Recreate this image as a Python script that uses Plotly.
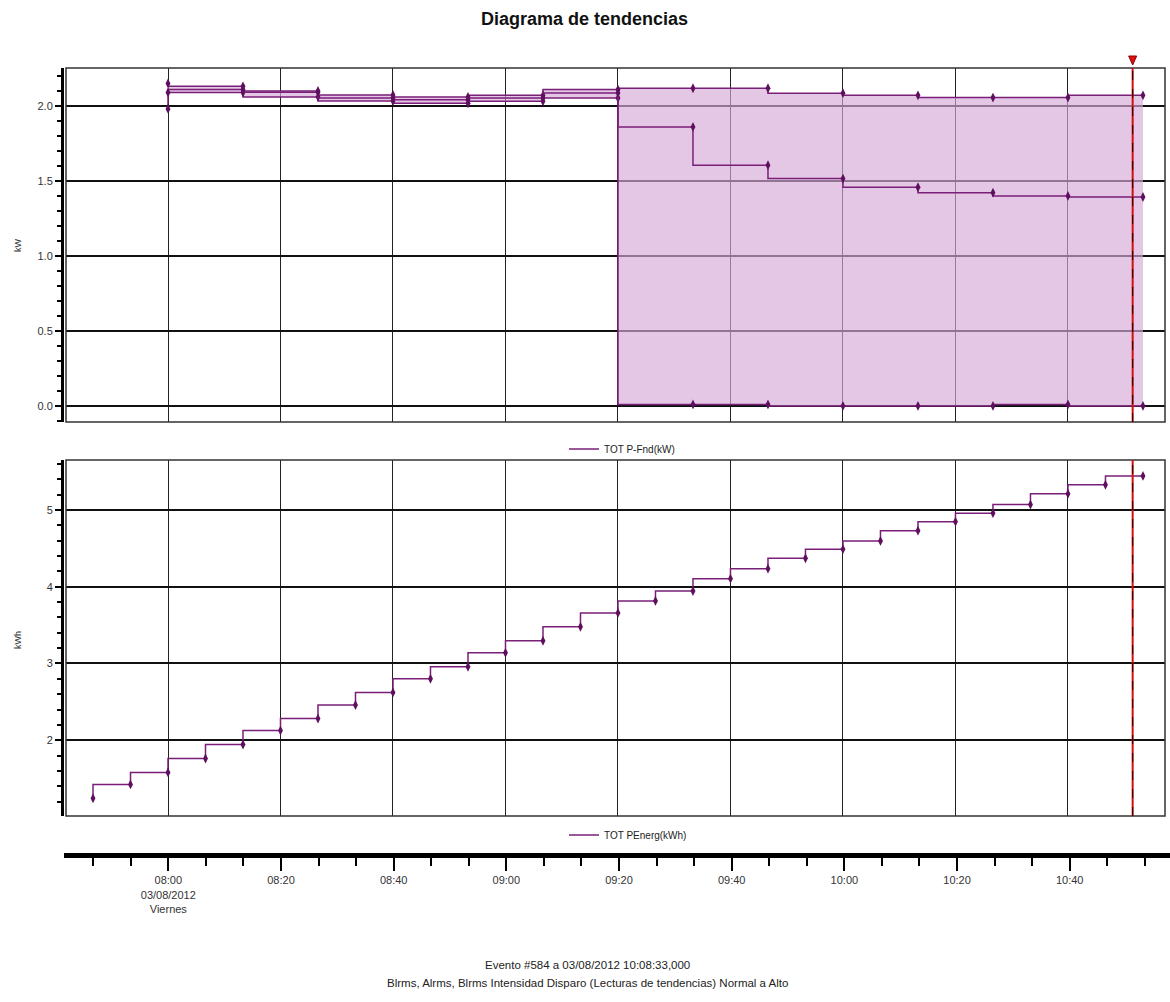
import plotly.graph_objects as go

DAY = "2012-08-03 "

# ---- data -------------------------------------------------------------
power_times = ["08:00:00", "08:13:20", "08:26:40", "08:40:00", "08:53:20",
               "09:06:40", "09:20:00", "09:33:20", "09:46:40", "10:00:00",
               "10:13:20", "10:26:40", "10:40:00", "10:53:20"]
power_max = [2.15, 2.131, 2.100, 2.073, 2.060, 2.071, 2.109,
             2.118, 2.118, 2.085, 2.071, 2.056, 2.056, 2.071]
power_avg = [2.09, 2.109, 2.091, 2.053, 2.042, 2.053, 2.087,
             1.860, 1.605, 1.516, 1.458, 1.422, 1.400, 1.393]
power_min = [1.98, 2.089, 2.060, 2.033, 2.018, 2.031, 2.053,
             0.010, 0.010, 0.000, 0.000, 0.000, 0.010, 0.000]

energy_times = ["07:46:40", "07:53:20", "08:00:00", "08:06:40", "08:13:20",
                "08:20:00", "08:26:40", "08:33:20", "08:40:00", "08:46:40",
                "08:53:20", "09:00:00", "09:06:40", "09:13:20", "09:20:00",
                "09:26:40", "09:33:20", "09:40:00", "09:46:40", "09:53:20",
                "10:00:00", "10:06:40", "10:13:20", "10:20:00", "10:26:40",
                "10:33:20", "10:40:00", "10:46:40", "10:53:20"]
energy_kwh = [1.243, 1.424, 1.580, 1.762, 1.944, 2.126, 2.282, 2.459, 2.623,
              2.800, 2.957, 3.139, 3.295, 3.477, 3.658, 3.814, 3.944, 4.104,
              4.234, 4.370, 4.488, 4.596, 4.730, 4.847, 4.957, 5.069, 5.210,
              5.326, 5.443]

major_ticks = ["08:00", "08:20", "08:40", "09:00", "09:20",
               "09:40", "10:00", "10:20", "10:40"]
major_labels = ["08:00<br>03/08/2012<br>Viernes", "08:20", "08:40", "09:00",
                "09:20", "09:40", "10:00", "10:20", "10:40"]
power_ticks = [0.0, 0.5, 1.0, 1.5, 2.0]
power_labels = ["0.0", "0.5", "1.0", "1.5", "2.0"]
energy_ticks = [2, 3, 4, 5]
energy_labels = ["2", "3", "4", "5"]
event_time = "10:51:30"

# ---- styling ----------------------------------------------------------
FONT = "Liberation Sans, Arial, sans-serif"
LINE = "#7A1F78"
MARK = "#5E0F5E"
FILL = "rgba(214,170,216,0.66)"
W, H = 1170, 1002


def px_x(p):
    return p / W


def px_y(p):
    return 1 - p / H


XDOM = [px_x(66), px_x(1165)]
XRANGE = [DAY + "07:41:52", DAY + "10:57:15"]

pt = [DAY + t for t in power_times]
et = [DAY + t for t in energy_times]
mt = [DAY + t for t in major_ticks]

fig = go.Figure()

marker = dict(symbol="diamond-tall", size=7, color=MARK)
line = dict(color=LINE, width=1.5, shape="vh")

fig.add_trace(go.Scatter(x=pt, y=power_max, mode="lines+markers", line=line,
                         marker=marker, showlegend=False,
                         xaxis="x", yaxis="y"))
fig.add_trace(go.Scatter(x=pt, y=power_min, mode="lines+markers", line=line,
                         marker=marker, fill="tonexty", fillcolor=FILL,
                         showlegend=False, xaxis="x", yaxis="y"))
fig.add_trace(go.Scatter(x=pt, y=power_avg, mode="lines+markers", line=line,
                         marker=marker, showlegend=False,
                         xaxis="x", yaxis="y"))
fig.add_trace(go.Scatter(x=[None], y=[None], mode="lines",
                         name="TOT P-Fnd(kW)", line=dict(color=LINE, width=1.5),
                         legend="legend", xaxis="x", yaxis="y"))

fig.add_trace(go.Scatter(x=et, y=energy_kwh, mode="lines+markers", line=line,
                         marker=marker, showlegend=False,
                         xaxis="x2", yaxis="y2"))
fig.add_trace(go.Scatter(x=[None], y=[None], mode="lines",
                         name="TOT PEnerg(kWh)", line=dict(color=LINE, width=1.5),
                         legend="legend2", xaxis="x2", yaxis="y2"))

# dummy trace for the shared time axis
fig.add_trace(go.Scatter(x=[mt[0]], y=[0], mode="markers",
                         marker=dict(opacity=0), showlegend=False,
                         hoverinfo="skip", xaxis="x3", yaxis="y3"))

tickfont = dict(family=FONT, size=11, color="#333333")

common_x = dict(domain=XDOM, type="date", range=XRANGE, tickvals=mt,
                showticklabels=False, ticks="", showgrid=True,
                gridcolor="#222222", gridwidth=1, zeroline=False,
                showline=False, automargin=False)

common_y = dict(anchor="free", position=px_x(62), showline=True, linewidth=3,
                linecolor="black", ticks="outside", ticklen=6, tickwidth=1.5,
                tickcolor="black", tickfont=tickfont, showgrid=True,
                gridcolor="#111111", gridwidth=1.6, zeroline=False,
                automargin=False)

fig.update_layout(
    width=W, height=H,
    margin=dict(l=0, r=0, t=0, b=0, autoexpand=False),
    paper_bgcolor="white", plot_bgcolor="white",
    font=dict(family=FONT, size=11, color="#222222"),
    xaxis=dict(anchor="y", **common_x),
    xaxis2=dict(anchor="y2", **common_x),
    yaxis=dict(domain=[px_y(422), px_y(68)], range=[-0.107, 2.253],
               tickvals=power_ticks, ticktext=power_labels,
               minor=dict(dtick=0.1, tick0=0, ticks="outside", ticklen=4,
                          tickwidth=1.5, tickcolor="black", showgrid=False),
               **common_y),
    yaxis2=dict(domain=[px_y(816), px_y(460)], range=[1.013, 5.65],
                tickvals=energy_ticks, ticktext=energy_labels,
                minor=dict(dtick=0.2, tick0=0, ticks="outside", ticklen=4,
                           tickwidth=1.5, tickcolor="black", showgrid=False),
                **common_y),
    xaxis3=dict(anchor="y3", domain=[px_x(64), px_x(1170)], type="date",
                range=[DAY + "07:41:29", DAY + "10:57:48"],
                tickvals=mt, ticktext=major_labels, tickfont=tickfont,
                ticks="outside", ticklen=13, tickwidth=1.5, tickcolor="black",
                showline=True, linewidth=5, linecolor="black",
                showgrid=False, zeroline=False, automargin=False,
                minor=dict(ticks="outside", ticklen=8, tickwidth=1.5,
                           tickcolor="black", tick0=DAY + "07:46:40",
                           dtick=400000, showgrid=False)),
    yaxis3=dict(domain=[px_y(853), px_y(848)], visible=False, range=[0, 1]),
    legend=dict(x=px_x(622), y=px_y(449), xanchor="center", yanchor="middle",
                orientation="h", bgcolor="rgba(0,0,0,0)", itemwidth=30,
                font=dict(family=FONT, size=10, color="#222222")),
    legend2=dict(x=px_x(628), y=px_y(835), xanchor="center", yanchor="middle",
                 orientation="h", bgcolor="rgba(0,0,0,0)", itemwidth=30,
                 font=dict(family=FONT, size=10, color="#222222")),
    showlegend=True,
)

# plot frames
for xr, yr in (("x domain", "y domain"), ("x2 domain", "y2 domain")):
    fig.add_shape(type="rect", xref=xr, yref=yr, x0=0, x1=1, y0=0, y1=1,
                  line=dict(color="#333333", width=1.5), layer="above")

# event vertical line on both charts
for xr, yr in (("x", "y domain"), ("x2", "y2 domain")):
    fig.add_shape(type="line", xref=xr, yref=yr, x0=DAY + event_time,
                  x1=DAY + event_time, y0=0, y1=1,
                  line=dict(color="#D01010", width=2), layer="above")
    fig.add_shape(type="line", xref=xr, yref=yr, x0=DAY + event_time,
                  x1=DAY + event_time, y0=0, y1=1,
                  line=dict(color="#200000", width=1, dash="dash"),
                  layer="above")

# event marker triangle above the top chart
fig.add_shape(type="path", xref="x", yref="paper",
              xsizemode="pixel", ysizemode="pixel",
              xanchor=DAY + event_time, yanchor=px_y(60),
              path="M -4 4 L 4 4 L 0 -5 Z",
              fillcolor="#E01010", line=dict(color="#900000", width=1))

annots = [
    dict(text="<b>Diagrama de tendencias</b>", x=px_x(584), y=px_y(19),
         font=dict(family=FONT, size=18, color="#111111")),
    dict(text="kW", x=px_x(18), y=px_y(245), textangle=-90,
         font=dict(family=FONT, size=9, color="#333333")),
    dict(text="kWh", x=px_x(18), y=px_y(640), textangle=-90,
         font=dict(family=FONT, size=9, color="#333333")),
    dict(text="Evento #584 a 03/08/2012 10:08:33,000", x=px_x(587),
         y=px_y(965), font=dict(family=FONT, size=11.5, color="#222222")),
    dict(text="Blrms, Alrms, Blrms Intensidad Disparo (Lecturas de tendencias) Normal a Alto",
         x=px_x(587), y=px_y(983),
         font=dict(family=FONT, size=11.5, color="#222222")),
]
for a in annots:
    fig.add_annotation(xref="paper", yref="paper", showarrow=False,
                       xanchor="center", yanchor="middle", **a)

fig.write_html("out.html",
               config={"displayModeBar": False},
               post_script="document.body.style.margin='0';")
